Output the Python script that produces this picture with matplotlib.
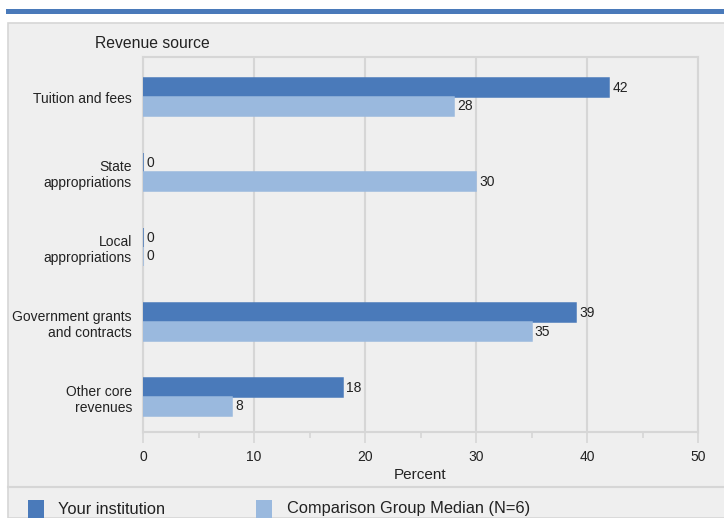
import matplotlib.pyplot as plt
from matplotlib.patches import Rectangle
from matplotlib.lines import Line2D
import numpy as np

plt.rcParams['font.family'] = ['Liberation Sans', 'DejaVu Sans']

# data
categories = ["Tuition and fees", "State\nappropriations", "Local\nappropriations",
              "Government grants\nand contracts", "Other core\nrevenues"]
your_inst = [42, 0, 0, 39, 18]
comparison = [28, 30, 0, 35, 8]
series_names = ["Your institution", "Comparison Group Median (N=6)"]

dark = "#4a7aba"
light = "#9ab9de"
panel = "#efefef"
border = "#d6d6d6"
txt = "#222222"

W, H = 724, 518
fig = plt.figure(figsize=(W / 100, H / 100), dpi=100)
fig.patch.set_facecolor("white")

def fx(px):
    return px / W

def fy(py):
    return 1 - py / H

# background panel + top blue rule
fig.patches.append(Rectangle((fx(8), 0), fx(724 - 8) + 0.01, fy(23), transform=fig.transFigure,
                             facecolor=panel, edgecolor=border, linewidth=1.2, zorder=-10))
fig.patches.append(Rectangle((fx(6), fy(14)), 1, 5 / H, transform=fig.transFigure,
                             facecolor=dark, edgecolor="none", zorder=-10))
fig.lines.append(Line2D([fx(8), 1], [fy(487), fy(487)], transform=fig.transFigure,
                        color=border, linewidth=1.5, zorder=-5))

ax = fig.add_axes([fx(143), fy(432), fx(698 - 143), (432 - 57) / H])
ax.set_facecolor(panel)

y = np.arange(len(categories))
h = 0.25
ax.barh(y - h / 2, your_inst, height=h, color=dark, edgecolor=dark, linewidth=1.1, zorder=3)
ax.barh(y + h / 2, comparison, height=h, color=light, edgecolor=light, linewidth=1.1, zorder=3)

for i in range(len(categories)):
    ax.text(your_inst[i] + 0.3, y[i] - h / 2, str(your_inst[i]), va="center", ha="left",
            fontsize=10, color=txt, zorder=4)
    ax.text(comparison[i] + 0.3, y[i] + h / 2, str(comparison[i]), va="center", ha="left",
            fontsize=10, color=txt, zorder=4)

ax.set_xlim(0, 50)
ax.set_ylim(len(categories) - 0.5 - 0.035, -0.5 - 0.035)
ax.set_yticks(y)
ax.set_yticklabels(categories, fontsize=10, color=txt)
ax.tick_params(axis="y", length=0, pad=8)
ax.set_xticks(np.arange(0, 51, 10))
ax.set_xticks(np.arange(5, 50, 10), minor=True)
ax.tick_params(axis="x", which="major", length=8, width=1.2, color=border, labelsize=10,
               labelcolor=txt, pad=5)
ax.tick_params(axis="x", which="minor", length=4, width=1.2, color=border)
ax.xaxis.grid(True, color=border, linewidth=1.5, zorder=0)
ax.set_axisbelow(True)
for s in ax.spines.values():
    s.set_color(border)
    s.set_linewidth(1.5)
ax.set_xlabel("Percent", fontsize=11, color=txt, labelpad=3)

fig.text(fx(95), fy(43), "Revenue source", fontsize=11.3, va="center", ha="left", color=txt)

# legend
fig.patches.append(Rectangle((fx(28), fy(518)), fx(16), 18 / H, transform=fig.transFigure,
                             facecolor=dark, edgecolor="none"))
fig.text(fx(58), fy(509), series_names[0], fontsize=11.8, va="center", ha="left", color=txt)
fig.patches.append(Rectangle((fx(256), fy(518)), fx(16), 18 / H, transform=fig.transFigure,
                             facecolor=light, edgecolor="none"))
fig.text(fx(287), fy(509), series_names[1], fontsize=11.8, va="center", ha="left", color=txt)

fig.savefig("out.png", dpi=100, facecolor=fig.get_facecolor())
